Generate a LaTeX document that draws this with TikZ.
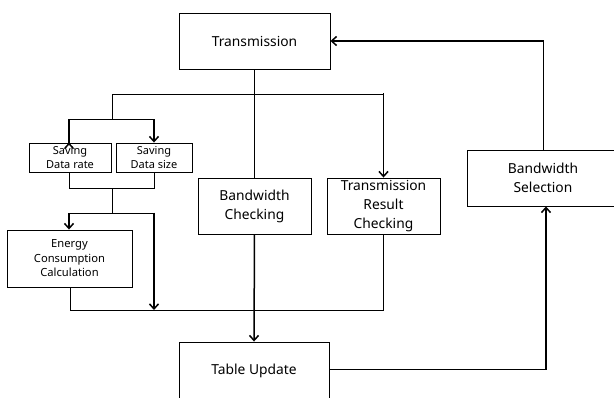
\documentclass[tikz,border=0pt]{standalone}
\usepackage{fontspec}
\setmainfont{Noto Sans}
\usetikzlibrary{arrows.meta}
\begin{document}
\begin{tikzpicture}[x=1pt,y=-1pt,
  box/.style={draw,line width=0.9pt,inner sep=0pt,align=center},
  thin/.style={line width=0.9pt},
  thick arrow/.style={line width=1.5pt,-{Straight Barb[length=5pt,width=9pt,line width=1.5pt]}},
  bigfont/.style={font=\fontsize{13.8}{19}\selectfont},
  midfont/.style={font=\fontsize{11.2}{14.5}\selectfont},
  smallfont/.style={font=\fontsize{11}{14}\selectfont}]
\useasboundingbox (0,0) rectangle (614,397);
\node[box,bigfont,minimum width=151pt,minimum height=56pt] (tx) at (254.5,41) {Transmission};
\node[box,bigfont,minimum width=152pt,minimum height=56pt] (bs) at (543,178) {Bandwidth\\Selection};
\node[box,bigfont,minimum width=113pt,minimum height=56pt] (bc) at (254.5,206) {Bandwidth\\Checking};
\node[box,bigfont,minimum width=113pt,minimum height=56pt] (trc) at (383.5,206) {Transmission\\Result\\Checking};
\node[box,smallfont,minimum width=82pt,minimum height=29pt] (sdr) at (70,157.5) {Saving\\Data rate};
\node[box,smallfont,minimum width=76pt,minimum height=29pt] (sds) at (154,157.5) {Saving\\Data size};
\node[box,midfont,minimum width=125pt,minimum height=57pt] (ecc) at (69.5,258.5) {Energy\\Consumption\\Calculation};
\node[box,bigfont,minimum width=150pt,minimum height=58pt] (tu) at (254,371) {Table Update};
% junctions
\coordinate (j2) at (112,94);
\coordinate (j3) at (112,119);
\coordinate (j4) at (112,188);
\coordinate (j5) at (112,213);
\coordinate (e1) at (154,310);
% transmission branch
\draw[thin] (tx.south) -- (bc.north);
\draw[thin] (j2) -- (383.5,94) -- (383.5,150);
\draw[thick arrow] (383.5,93) -- (trc.north);
\draw[thin] (j2) -- (j3);
\draw[thin] (69,119) -- (154,119);
\draw[thick arrow] (69,119) -- (69,143) -- (sdr.north -| 69,0);
\draw[thick arrow] (154,119) -- (sds.north);
\draw[thin] (sdr.south -| 69,0) -- (69,188) -- (154,188) -- (sds.south);
\draw[thin] (j4) -- (j5);
\draw[thin] (69,213) -- (154,213);
\draw[thick arrow] (69,213) -- (ecc.north -| 69,0);
\draw[thick arrow] (154,212.5) -- (e1);
\draw[thin] (ecc.south -| 70,0) -- (70,310) -- (383.5,310) -- (trc.south);
\draw[thick arrow] (bc.south) -- (tu.north);
\draw[thin] (tu.east |- 0,369) -- (546,369);
\draw[thick arrow] (546,369.7) -- (bs.south -| 546,0);
\draw[thin] (bs.north) -- (543,41);
\draw[thick arrow] (543.7,41) -- (tx.east);
\end{tikzpicture}
\end{document}
